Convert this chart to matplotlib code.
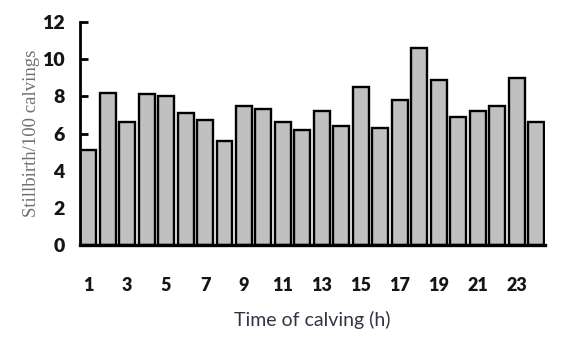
import numpy as np
import matplotlib.pyplot as plt

# stillbirth rate per hour of calving
hours = list(range(1, 25))
stillbirth = [5.1, 8.2, 6.6, 8.1, 8.0, 7.1, 6.7, 5.6, 7.5, 7.3, 6.6, 6.2,
              7.2, 6.4, 8.5, 6.3, 7.8, 10.6, 8.9, 6.9, 7.2, 7.5, 9.0, 6.6]
xtick_labels = [str(h) for h in hours[::2]]
yticks = [0, 2, 4, 6, 8, 10, 12]

fig = plt.figure(figsize=(5.66, 3.38), dpi=100)
ax = fig.add_axes([0.141, 0.275, 0.822, 0.66])

width = 0.82
ax.bar(hours, stillbirth, width=width, color='#c0c0c0',
       edgecolor='black', linewidth=1.7, zorder=2)

ax.set_xlim(hours[0] - width / 2 - 0.02, hours[-1] + width / 2 + 0.05)
ax.set_ylim(0, 12)

ax.set_xticks(hours[::2])
ax.set_xticklabels(xtick_labels, fontfamily='Lato', fontweight='heavy',
                   fontsize=13, color='#151515')
ax.set_yticks(yticks)
ax.set_yticklabels([str(v) for v in yticks], fontfamily='Lato',
                   fontweight='heavy', fontsize=14, color='#151515')

ax.tick_params(axis='x', length=0, pad=23)
ax.tick_params(axis='y', direction='in', length=6, width=2, pad=11)

for side in ['top', 'right']:
    ax.spines[side].set_visible(False)
ax.spines['left'].set_linewidth(2)
ax.spines['bottom'].set_linewidth(2.4)

ax.set_ylabel('Stillbirth/100 calvings', fontfamily='Liberation Serif',
              fontsize=13.5, color='#707070', labelpad=1)
ax.set_xlabel('Time of calving (h)', fontfamily='Lato', fontsize=14,
              color='#333344', labelpad=12)

fig.savefig('out.png', dpi=100)
